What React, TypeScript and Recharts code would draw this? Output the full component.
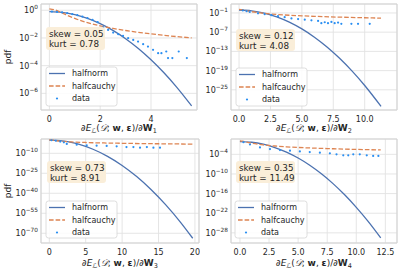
import React from 'react';
import { ComposedChart, Line, Scatter, XAxis, YAxis, CartesianGrid, ReferenceArea } from 'recharts';

// ---------- data ----------
// Panel 1 : dE/dW1
const p1NormX = [0, 0.5, 1, 1.5, 2, 2.5, 3, 3.5, 4, 4.5, 5, 5.6];
const p1NormY = [0.798, 0.704, 0.484, 0.259, 0.108, 0.0351, 0.00887, 0.001745, 2.68e-4, 3.19e-5, 2.97e-6, 1.24e-7];
const p1CauchyX = [0, 0.25, 0.5, 0.75, 1, 1.5, 2, 2.5, 3, 3.5, 4, 4.5, 5, 5.6];
const p1CauchyY = [1.273, 1.018, 0.637, 0.392, 0.255, 0.127, 0.0749, 0.049, 0.0344, 0.0255, 0.0196, 0.0155, 0.0126, 0.0101];
const p1DataX = [0.1, 0.3, 0.5, 0.7, 0.9, 1.1, 1.3, 1.5, 1.7, 1.9, 2.12, 2.31, 2.51, 2.71, 2.9, 3.1, 3.3, 3.49, 3.69, 3.88, 4.08, 4.28, 4.41, 4.6, 4.67, 4.84, 5.09, 5.41];
const p1DataY = [0.8, 0.76, 0.7, 0.62, 0.53, 0.44, 0.35, 0.27, 0.2, 0.14, 0.0589, 0.038, 0.0245, 0.0186, 0.0141, 0.00955, 0.00724, 0.0055, 0.00355, 0.0024, 0.00138, 7.9e-4, 7.9e-4, 1.05e-3, 3.5e-4, 3.5e-4, 1.05e-3, 3.5e-4];

// Panel 2 : dE/dW2
const p2NormX = [0, 1, 2, 3, 4, 5, 6, 7, 8, 9, 10, 11.3];
const p2NormY = [0.831, 0.483, 0.095, 6.3e-3, 1.41e-4, 1.07e-6, 2.75e-9, 2.4e-12, 6.9e-16, 6.9e-20, 2.3e-24, 6.9e-31];
const p2CauchyX = [0, 0.25, 0.5, 0.75, 1, 1.5, 2, 3, 4, 5, 6, 8, 10, 11.3];
const p2CauchyY = [1.273, 1.018, 0.637, 0.392, 0.255, 0.127, 0.0749, 0.0344, 0.0196, 0.0126, 8.78e-3, 4.95e-3, 3.17e-3, 2.49e-3];
const p2DataX = [0.3, 0.6, 0.85, 1.51, 2.04, 2.58, 3.1, 3.63, 4.17, 4.7, 5.23, 5.76, 6.29, 6.55, 6.82, 7.08, 7.35, 7.61, 7.88, 8.14, 8.94, 9.47, 10.4];
const p2DataY = [0.631, 0.355, 0.204, 0.0794, 0.0398, 0.02, 0.01, 0.005, 0.002, 0.00126, 7.9e-4, 5e-4, 3.2e-4, 6.3e-5, 1.26e-4, 6.3e-5, 1.6e-4, 6.3e-5, 1e-4, 4e-5, 4e-5, 4e-5, 4e-5];

// Panel 3 : dE/dW3
const p3NormX = [0, 1, 2, 3, 4, 6, 8, 10, 12, 14, 16, 18, 19.7];
const p3NormY = [0.746, 0.484, 0.13, 0.0146, 6.9e-4, 1.1e-7, 5.4e-13, 7.9e-20, 3.6e-28, 4.9e-38, 2.0e-49, 2.6e-62, 1.8e-74];
const p3CauchyX = [0, 0.5, 1, 2, 3, 5, 7.5, 10, 12.5, 15, 17.5, 19.7];
const p3CauchyY = [1.273, 0.637, 0.255, 0.0749, 0.0344, 0.0126, 5.63e-3, 3.17e-3, 2.03e-3, 1.41e-3, 1.04e-3, 8.2e-4];
const p3DataX = [0.3, 0.9, 1.5, 2.0, 2.4, 3.76, 5.14, 6.5, 7.88, 9.25, 10.6, 11.55, 12.46, 13.4, 14.3, 15.2];
const p3DataY = [0.631, 0.251, 0.063, 0.0158, 1e-3, 3.16e-4, 1e-4, 5e-5, 3.16e-5, 1.78e-5, 5e-6, 5e-6, 1.58e-6, 5e-6, 1.58e-6, 1.58e-6];

// Panel 4 : dE/dW4
const p4NormX = [0, 1, 2, 3, 4, 5, 6, 7, 8, 9, 10, 11, 12.1];
const p4NormY = [0.767, 0.483, 0.121, 0.012, 4.7e-4, 7.3e-6, 4.6e-8, 1.1e-10, 1.1e-13, 4.2e-17, 6.3e-21, 3.9e-25, 3.0e-30];
const p4CauchyX = [0, 0.25, 0.5, 0.75, 1, 1.5, 2, 3, 4, 5, 6, 8, 10, 12.1];
const p4CauchyY = [1.273, 1.018, 0.637, 0.392, 0.255, 0.127, 0.0749, 0.0344, 0.0196, 0.0126, 8.78e-3, 4.95e-3, 3.17e-3, 2.17e-3];
const p4DataX = [0.3, 0.86, 1.72, 2.58, 3.44, 4.3, 5.15, 6.0, 6.87, 7.73, 8.3, 8.88, 9.31, 9.74, 10.3, 10.9, 11.45, 11.9];
const p4DataY = [0.5, 0.1, 0.0126, 0.004, 0.002, 0.00126, 7.9e-4, 5e-4, 3.2e-4, 2e-4, 1e-4, 5e-5, 5e-5, 1e-4, 1e-4, 5e-5, 3.2e-5, 3.2e-5];

// ticks & annotations
const p1XTicks = [0, 2, 4];
const p2XTicks = [0, 2.5, 5, 7.5, 10];
const p3XTicks = [0, 5, 10, 15, 20];
const p4XTicks = [0, 2.5, 5, 7.5, 10, 12.5];
const p1YTicks = [1, 1e-2, 1e-4, 1e-6];
const p2YTicks = [1e-1, 1e-7, 1e-13, 1e-19, 1e-25];
const p3YTicks = [1e-10, 1e-25, 1e-40, 1e-55, 1e-70];
const p4YTicks = [1e-4, 1e-10, 1e-16, 1e-22, 1e-28];
const skews = ['0.05', '0.12', '0.73', '0.35'];
const kurts = ['0.78', '4.08', '8.91', '11.49'];
const seriesNames = ['halfnorm', 'halfcauchy', 'data'];
const weightIdx = ['1', '2', '3', '4'];

const zip = (xs: number[], ys: number[]) => xs.map((x, i) => ({ x, y: ys[i] }));

// ---------- style ----------
const FONT = 'DejaVu Sans';
const BLUE = '#4c72b0';
const ORANGE = '#dd8452';
const DOT = '#2a8ff2';
const GRID = '#e2e2e2';
const TEXT = '#262626';

const LogTick = (props: any) => {
  const { x, y, payload } = props;
  const e = Math.round(Math.log10(payload.value));
  const s = e < 0 ? '\u2212' + Math.abs(e) : String(e);
  return (
    <text x={x} y={y + 3} textAnchor="end" fontFamily={FONT} fontSize={8} fill={TEXT}>
      <tspan>10</tspan>
      <tspan dy={-4} fontSize={5.8}>{s}</tspan>
    </text>
  );
};

type PanelProps = {
  box: [number, number, number, number];
  margin: { top: number; right: number; left: number; bottom: number };
  yWidth: number;
  xHeight: number;
  xDomain: [number, number];
  yExp: [number, number];
  xTicks: number[];
  yTicks: number[];
  fmt: (v: number) => string;
  norm: { x: number; y: number }[];
  cauchy: { x: number; y: number }[];
  dots: { x: number; y: number }[];
};

const Panel = (p: PanelProps) => {
  const yDomain: [number, number] = [Math.pow(10, p.yExp[0]), Math.pow(10, p.yExp[1])];
  return (
    <div style={{ position: 'absolute', left: p.box[0], top: p.box[1], width: p.box[2], height: p.box[3] }}>
      <ComposedChart width={p.box[2]} height={p.box[3]} margin={p.margin}>
        <CartesianGrid stroke={GRID} strokeWidth={0.9} />
        <XAxis
          type="number"
          dataKey="x"
          domain={p.xDomain}
          allowDataOverflow
          ticks={p.xTicks}
          interval={0}
          tickFormatter={p.fmt}
          tickLine={false}
          axisLine={false}
          tickSize={0}
          tickMargin={6}
          height={p.xHeight}
          tick={{ fontSize: 8, fill: TEXT, fontFamily: FONT }}
        />
        <YAxis
          type="number"
          dataKey="y"
          scale="log"
          domain={yDomain}
          allowDataOverflow
          ticks={p.yTicks}
          interval={0}
          tickLine={false}
          axisLine={false}
          tickSize={0}
          tickMargin={3}
          width={p.yWidth}
          tick={<LogTick />}
        />
        <ReferenceArea x1={p.xDomain[0]} x2={p.xDomain[1]} y1={yDomain[0]} y2={yDomain[1]} fill="none" stroke="#d2d2d2" strokeWidth={1} ifOverflow="visible" />
        <Line data={p.norm} dataKey="y" type="monotone" stroke={BLUE} strokeWidth={1.3} dot={false} isAnimationActive={false} />
        <Line data={p.cauchy} dataKey="y" type="monotone" stroke={ORANGE} strokeWidth={1.3} strokeDasharray="4.6 2" dot={false} isAnimationActive={false} />
        <Scatter
          data={p.dots}
          dataKey="y"
          isAnimationActive={false}
          shape={(s: any) => <circle cx={s.cx} cy={s.cy} r={1.1} fill={DOT} />}
        />
      </ComposedChart>
    </div>
  );
};

const XLabel = ({ cx, y, idx }: { cx: number; y: number; idx: string }) => (
  <text x={cx} y={y} textAnchor="middle" fontFamily={FONT} fontSize={9} fill={TEXT}>
    <tspan>{'\u2202'}</tspan>
    <tspan fontStyle="italic">E</tspan>
    <tspan fontSize={6.5} dy={2} fontStyle="italic">{'\u2112'}</tspan>
    <tspan dy={-2}>(</tspan>
    <tspan fontStyle="italic">{'\uD835\uDC9F'}</tspan>
    <tspan>; </tspan>
    <tspan fontWeight="bold">w</tspan>
    <tspan>, </tspan>
    <tspan fontWeight="bold">{'\u03B5'}</tspan>
    <tspan>)/{'\u2202'}</tspan>
    <tspan fontWeight="bold">W</tspan>
    <tspan fontSize={6.5} dy={2}>{idx}</tspan>
  </text>
);

const StatBox = ({ x, y, w, h, skew, kurt }: any) => (
  <g>
    <rect x={x} y={y} width={w} height={h} rx={3} fill="#faeed9" />
    <text x={x + 3} y={y + 10} fontFamily={FONT} fontSize={8.8} fill={TEXT}>skew = {skew}</text>
    <text x={x + 3} y={y + 19.5} fontFamily={FONT} fontSize={8.8} fill={TEXT}>kurt = {kurt}</text>
  </g>
);

const LegendBox = ({ x, y, w, h }: any) => {
  const rows = [y + 6.5, y + 19, y + 31.5];
  return (
    <g>
      <rect x={x} y={y} width={w} height={h} rx={2.5} fill="#ffffff" fillOpacity={0.85} stroke="#d6d6d6" strokeWidth={0.8} />
      <line x1={x + 3} x2={x + 19} y1={rows[0]} y2={rows[0]} stroke={BLUE} strokeWidth={1.3} />
      <line x1={x + 3} x2={x + 19} y1={rows[1]} y2={rows[1]} stroke={ORANGE} strokeWidth={1.3} strokeDasharray="4.6 2" />
      <circle cx={x + 11} cy={rows[2]} r={1.1} fill={DOT} />
      {seriesNames.map((n, i) => (
        <text key={n} x={x + 26} y={rows[i] + 2.9} fontFamily={FONT} fontSize={8} fill={TEXT}>{n}</text>
      ))}
    </g>
  );
};

export default function App() {
  const f0 = (v: number) => String(v);
  const f1 = (v: number) => v.toFixed(1);
  return (
    <div style={{ position: 'absolute', left: 0, top: 0, width: 399, height: 273, background: '#ffffff', overflow: 'hidden' }}>
      <Panel box={[0, 0, 200, 136]} margin={{ top: 4, right: 3, left: 0, bottom: 0 }} yWidth={41} xHeight={26}
        xDomain={[-0.33, 5.81]} yExp={[-7.2, 0.45]} xTicks={p1XTicks} yTicks={p1YTicks} fmt={f0}
        norm={zip(p1NormX, p1NormY)} cauchy={zip(p1CauchyX, p1CauchyY)} dots={zip(p1DataX, p1DataY)} />
      <Panel box={[200, 0, 199, 136]} margin={{ top: 4, right: 2, left: 0, bottom: 0 }} yWidth={31} xHeight={26}
        xDomain={[-0.64, 12.57]} yExp={[-31.3, 1.8]} xTicks={p2XTicks} yTicks={p2YTicks} fmt={f1}
        norm={zip(p2NormX, p2NormY)} cauchy={zip(p2CauchyX, p2CauchyY)} dots={zip(p2DataX, p2DataY)} />
      <Panel box={[0, 136, 200, 137]} margin={{ top: 3, right: 1, left: 0, bottom: 0 }} yWidth={41} xHeight={30}
        xDomain={[-1.14, 20.56]} yExp={[-77.3, 0.73]} xTicks={p3XTicks} yTicks={p3YTicks} fmt={f0}
        norm={zip(p3NormX, p3NormY)} cauchy={zip(p3CauchyX, p3CauchyY)} dots={zip(p3DataX, p3DataY)} />
      <Panel box={[200, 136, 199, 137]} margin={{ top: 3, right: 2, left: 0, bottom: 0 }} yWidth={31} xHeight={30}
        xDomain={[-0.77, 13.5]} yExp={[-31.1, 0.68]} xTicks={p4XTicks} yTicks={p4YTicks} fmt={f1}
        norm={zip(p4NormX, p4NormY)} cauchy={zip(p4CauchyX, p4CauchyY)} dots={zip(p4DataX, p4DataY)} />
      <svg width={399} height={273} style={{ position: 'absolute', left: 0, top: 0, pointerEvents: 'none' }}>
        <text transform="translate(11,57) rotate(-90)" textAnchor="middle" fontFamily={FONT} fontSize={9} fill={TEXT}>pdf</text>
        <text transform="translate(11,191) rotate(-90)" textAnchor="middle" fontFamily={FONT} fontSize={9} fill={TEXT}>pdf</text>
        <XLabel cx={119} y={131} idx={weightIdx[0]} />
        <XLabel cx={314} y={131} idx={weightIdx[1]} />
        <XLabel cx={120} y={266} idx={weightIdx[2]} />
        <XLabel cx={314} y={266} idx={weightIdx[3]} />
        <StatBox x={46} y={27} w={59} h={23} skew={skews[0]} kurt={kurts[0]} />
        <StatBox x={236} y={29} w={59} h={22} skew={skews[1]} kurt={kurts[1]} />
        <StatBox x={47} y={161} w={59} h={22} skew={skews[2]} kurt={kurts[2]} />
        <StatBox x={236} y={161} w={59} h={22} skew={skews[3]} kurt={kurts[3]} />
        <LegendBox x={46} y={67} w={71} h={39} />
        <LegendBox x={236} y={68} w={71} h={38} />
        <LegendBox x={46} y={201} w={71} h={37} />
        <LegendBox x={235} y={201} w={72} h={37} />
      </svg>
    </div>
  );
}
